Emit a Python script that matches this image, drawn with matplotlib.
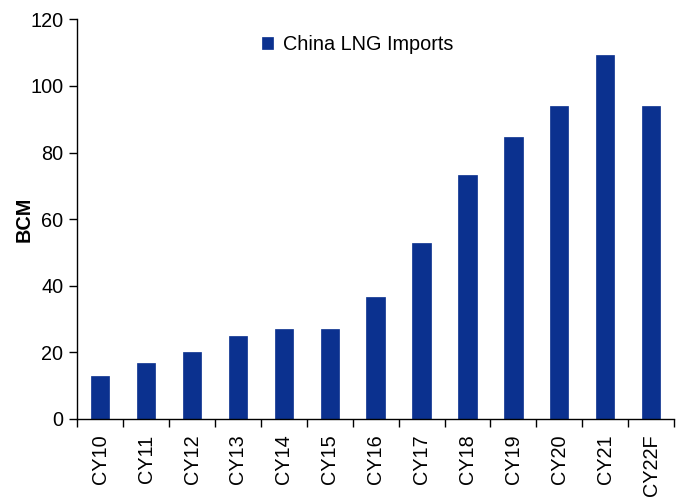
import matplotlib
matplotlib.use("Agg")
import matplotlib.pyplot as plt
import numpy as np

categories = ["CY10", "CY11", "CY12", "CY13", "CY14", "CY15", "CY16",
              "CY17", "CY18", "CY19", "CY20", "CY21", "CY22F"]
values = [12.9, 16.8, 20.0, 25.0, 27.1, 26.9, 36.7, 52.8, 73.4, 84.8, 93.9, 109.4, 93.9]
series_name = "China LNG Imports"
y_label = "BCM"

plt.rcParams['font.family'] = ['Liberation Sans', 'DejaVu Sans']
FS = 14.3

fig = plt.figure(figsize=(6.86, 5.0), dpi=100)
ax = fig.add_axes([0.1127, 0.162, 0.8698, 0.7994])

x = np.arange(len(categories))
ax.bar(x, values, width=0.4, color='#0b318f', edgecolor='#0b318f', linewidth=0.5,
       label=series_name, zorder=2)

ax.set_xlim(-0.5, len(categories) - 0.5)
ax.set_ylim(0, 120)
ax.set_yticks(np.arange(0, 121, 20))
ax.tick_params(axis='y', labelsize=FS, direction='out', length=6, width=1, pad=4)
ax.set_xticks(x)
ax.set_xticklabels(categories, rotation=90, fontsize=FS)
ax.tick_params(axis='x', length=0, pad=11)
ax.set_xticks(np.arange(-0.5, len(categories), 1), minor=True)
ax.tick_params(axis='x', which='minor', direction='out', length=6, width=1)

for s in ['top', 'right']:
    ax.spines[s].set_visible(False)
ax.spines['left'].set_linewidth(1)
ax.spines['bottom'].set_linewidth(1)

ax.set_ylabel(y_label, fontsize=FS, fontweight='bold')
ax.yaxis.set_label_coords(-0.073, 0.5)

leg = ax.legend(loc='upper left', bbox_to_anchor=(0.28, 1.005), frameon=False,
                fontsize=FS, handlelength=0.55, handleheight=0.55, handletextpad=0.5)

fig.savefig("out.png", dpi=100)
